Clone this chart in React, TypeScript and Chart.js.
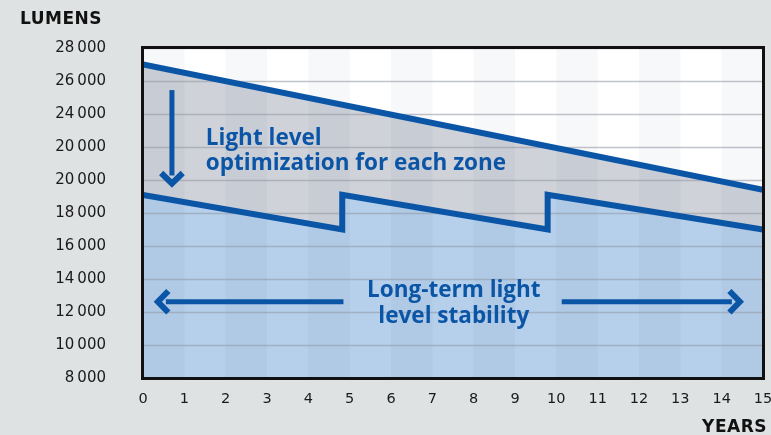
import React, { useEffect, useRef } from "react";
import { Chart, registerables } from "chart.js";

Chart.register(...registerables);

// Data
const upperYears = [0, 15];
const upperLumens = [27000, 19400];
const lowerYears = [0, 4.82, 4.82, 9.79, 9.79, 15];
const lowerLumens = [19100, 17000, 19100, 17000, 19100, 17000];
const yTickValues = [8000, 10000, 12000, 14000, 16000, 18000, 20000, 22000, 24000, 26000, 28000];
const yTickLabels = ["8\u2009000", "10\u2009000", "12\u2009000", "14\u2009000", "16\u2009000", "18\u2009000", "20\u2009000", "20\u2009000", "24\u2009000", "26\u2009000", "28\u2009000"];
const xTickValues = [0, 1, 2, 3, 4, 5, 6, 7, 8, 9, 10, 11, 12, 13, 14, 15];
const yTitle = "LUMENS";
const xTitle = "YEARS";
const noteTop = ["Light level", "optimization for each zone"];
const noteBottom = ["Long-term light", "level stability"];

const BLUE = "#0b55a6";
const FONT = "'Open Sans', 'DejaVu Sans', sans-serif";
const TICKFONT = "'DejaVu Sans', sans-serif";

function arrow(ctx: CanvasRenderingContext2D, x1: number, y1: number, x2: number, y2: number) {
  const ang = Math.atan2(y2 - y1, x2 - x1);
  const head = 15;
  const bx = x2 - Math.cos(ang) * 8;
  const by = y2 - Math.sin(ang) * 8;
  ctx.save();
  ctx.strokeStyle = BLUE;
  ctx.lineWidth = 5;
  ctx.lineCap = "butt";
  ctx.beginPath();
  ctx.moveTo(x1, y1);
  ctx.lineTo(bx, by);
  ctx.stroke();
  ctx.lineWidth = 6;
  ctx.lineJoin = "miter";
  ctx.beginPath();
  ctx.moveTo(x2 - Math.cos(ang - 0.8) * head, y2 - Math.sin(ang - 0.8) * head);
  ctx.lineTo(x2, y2);
  ctx.lineTo(x2 - Math.cos(ang + 0.8) * head, y2 - Math.sin(ang + 0.8) * head);
  ctx.stroke();
  ctx.restore();
}

const decorPlugin = {
  id: "decor",
  beforeDraw(chart: any) {
    const { ctx, chartArea: a } = chart;
    ctx.save();
    ctx.fillStyle = "#ffffff";
    ctx.fillRect(a.left, a.top, a.right - a.left, a.bottom - a.top);
    ctx.restore();
  },
  beforeDatasetsDraw(chart: any) {
    const { ctx, chartArea: a, scales } = chart;
    const xs = scales.x;
    const ys = scales.y;
    ctx.save();
    // stripes
    ctx.fillStyle = "rgba(40,50,80,0.035)";
    for (let i = 0; i < 15; i += 2) {
      const l = xs.getPixelForValue(i);
      const r = xs.getPixelForValue(i + 1);
      ctx.fillRect(l, a.top, r - l, a.bottom - a.top);
    }
    // grid
    ctx.strokeStyle = "rgba(150,155,165,0.6)";
    ctx.lineWidth = 1.5;
    for (const v of yTickValues) {
      const y = Math.round(ys.getPixelForValue(v)) + 0.5;
      ctx.beginPath();
      ctx.moveTo(a.left, y);
      ctx.lineTo(a.right, y);
      ctx.stroke();
    }
    ctx.restore();
  },
  afterDatasetsDraw(chart: any) {
    const { ctx, chartArea: a, scales } = chart;
    const xs = scales.x;
    const ys = scales.y;
    const px = (v: number) => xs.getPixelForValue(v);
    const py = (v: number) => ys.getPixelForValue(v);
    ctx.save();
    // border
    ctx.strokeStyle = "#111";
    ctx.lineWidth = 3;
    ctx.strokeRect(a.left - 0.5, a.top - 0.5, a.right - a.left + 1, a.bottom - a.top + 1);

    // annotations
    arrow(ctx, px(0.7), py(25450), px(0.7), py(19790));
    arrow(ctx, px(4.85), py(12620), px(0.36), py(12620));
    arrow(ctx, px(10.13), py(12620), px(14.44), py(12620));

    ctx.fillStyle = BLUE;
    ctx.font = `bold 22.5px ${FONT}`;
    ctx.textAlign = "left";
    ctx.textBaseline = "middle";
    ctx.fillText(noteTop[0], px(1.52), py(22530));
    ctx.fillText(noteTop[1], px(1.52), py(21010));
    ctx.textAlign = "center";
    ctx.fillText(noteBottom[0], px(7.52), py(13290));
    ctx.fillText(noteBottom[1], px(7.52), py(11710));

    // axis titles
    ctx.fillStyle = "#111";
    ctx.font = `900 17px 'DejaVu Sans', sans-serif`;
    (ctx as any).letterSpacing = "0.5px";
    ctx.textAlign = "left";
    ctx.textBaseline = "middle";
    ctx.fillText(yTitle, 20, 20);
    ctx.textAlign = "right";
    ctx.fillText(xTitle, 767, 428);
    (ctx as any).letterSpacing = "0px";
    ctx.restore();
  },
};

export default function App() {
  const ref = useRef<HTMLCanvasElement>(null);
  useEffect(() => {
    document.body.style.margin = "0";
    const chart = new Chart(ref.current!, {
      type: "line",
      data: {
        datasets: [
          {
            label: "upper",
            data: upperYears.map((x, i) => ({ x, y: upperLumens[i] })),
            borderColor: BLUE,
            borderWidth: 6,
            backgroundColor: "#cfd2d9",
            fill: "start",
            pointRadius: 0,
            tension: 0,
            order: 2,
          },
          {
            label: "lower",
            data: lowerYears.map((x, i) => ({ x, y: lowerLumens[i] })),
            borderColor: BLUE,
            borderWidth: 6,
            backgroundColor: "#b6cfeb",
            fill: "start",
            pointRadius: 0,
            tension: 0,
            borderJoinStyle: "miter",
            order: 1,
          },
        ],
      },
      options: {
        animation: false,
        responsive: false,
        maintainAspectRatio: false,
        layout: { padding: { top: 48, right: 8, left: 0, bottom: 0 } },
        plugins: {
          legend: { display: false },
          tooltip: { enabled: false },
          filler: { drawTime: "beforeDatasetsDraw" } as any,
        },
        scales: {
          x: {
            type: "linear",
            min: 0,
            max: 15,
            afterBuildTicks: (s: any) => {
              s.ticks = xTickValues.map((v) => ({ value: v }));
            },
            afterFit: (s: any) => {
              s.height = 57;
              s.paddingLeft = 0;
              s.paddingRight = 0;
            },
            grid: { display: false, drawTicks: false },
            border: { display: false },
            ticks: {
              padding: 13,
              color: "#1a1a1a",
              maxRotation: 0,
              font: { family: TICKFONT, size: 14.5 },
              callback: (v: any) => String(v),
            },
          },
          y: {
            type: "linear",
            min: 8000,
            max: 28000,
            afterBuildTicks: (s: any) => {
              s.ticks = yTickValues.map((v) => ({ value: v }));
            },
            afterFit: (s: any) => {
              s.width = 143;
              s.paddingTop = 0;
              s.paddingBottom = 0;
            },
            grid: { display: false, drawTicks: false },
            border: { display: false },
            ticks: {
              padding: 37,
              color: "#1a1a1a",
              font: { family: TICKFONT, size: 15 },
              callback: (v: any) => {
                const i = yTickValues.indexOf(Number(v));
                return i >= 0 ? yTickLabels[i] : "";
              },
            },
          },
        },
      },
      plugins: [decorPlugin],
    });
    return () => chart.destroy();
  }, []);
  return (
    <div style={{ width: 771, height: 435, background: "#dfe2e2" }}>
      <canvas ref={ref} width={771} height={435} style={{ display: "block" }} />
    </div>
  );
}
